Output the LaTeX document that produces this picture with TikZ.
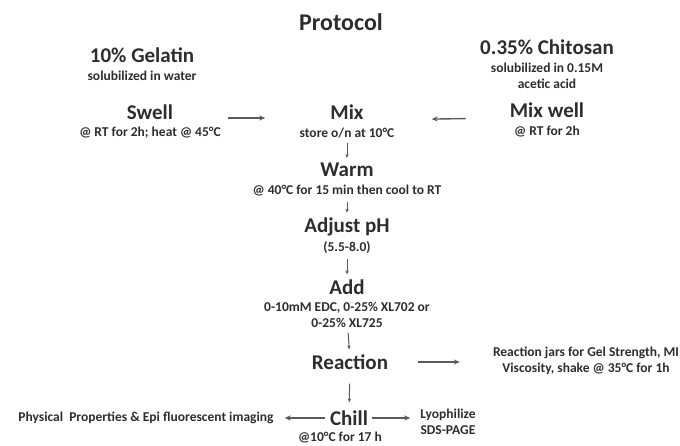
\documentclass[tikz,border=0pt]{standalone}
\usepackage{fontspec}
\setmainfont{Carlito}
\usetikzlibrary{positioning, arrows.meta}
\definecolor{TextGray}{RGB}{45, 45, 45}
\definecolor{ArrowGray}{RGB}{90, 90, 90}

\begin{document}
\begin{tikzpicture}[
    x=1pt, y=-1pt,
    title/.style={font=\bfseries\fontsize{24}{26}\selectfont, text=TextGray, inner sep=0pt},
    head/.style={font=\bfseries\fontsize{21}{23}\selectfont, text=TextGray, inner sep=0pt},
    note/.style={font=\bfseries\fontsize{13.5}{16}\selectfont, text=TextGray, inner sep=0pt, align=center},
    arrow/.style={-{Stealth[length=6pt, width=5pt]}, line width=1.4pt, ArrowGray},
    down/.style={-{Stealth[length=4pt, width=3.5pt]}, line width=1pt, ArrowGray, shorten <=5pt, shorten >=5pt}
  ]
    \useasboundingbox (0,0) rectangle (680,446);

    \node[title] (protocol) at (341,22) {Protocol};

    % sources
    \node[head] (gelatin) at (142,55) {10\% Gelatin};
    \node[note] (gelnote) at (142,76) {solubilized in water};
    \node[head] (chitosan) at (547,47) {0.35\% Chitosan};
    \node[note] (chinote) at (547,76) {solubilized in 0.15M\\acetic acid};

    % preparation
    \node[head] (swell) at (150,112) {Swell};
    \node[note] (swellnote) at (150,133) {@ RT for 2h; heat @ 45\textdegree C};
    \node[head] (mix) at (347,112) {Mix};
    \node[note] (mixnote) at (347,133) {store o/n at 10\textdegree C};
    \node[head] (mixwell) at (547,110) {Mix well};
    \node[note] (mixwellnote) at (547,132) {@ RT for 2h};

    % main steps
    \node[head] (warm) at (347,170) {Warm};
    \node[note] (warmnote) at (347,191) {@ 40\textdegree C for 15 min then cool to RT};
    \node[head] (adjust) at (347,227) {Adjust pH};
    \node[note] (adjustnote) at (347,248) {(5.5-8.0)};
    \node[head] (add) at (347,287) {Add};
    \node[note] (addnote) at (347,315) {0-10mM EDC, 0-25\% XL702 or\\0-25\% XL725};
    \node[head] (reaction) at (350,362) {Reaction};
    \node[head] (chill) at (349,418) {Chill};
    \node[note] (chillnote) at (340,438) {@10\textdegree C for 17 h};

    % outcomes
    \node[note] (jars) at (586,361) {Reaction jars for Gel Strength, MI\\Viscosity, shake @ 35\textdegree C for 1h};
    \node[note] (physical) at (146,418) {Physical\ \ Properties \& Epi fluorescent imaging};
    \node[note] (lyo) at (448,422) {Lyophilize\\SDS-PAGE};

    \draw[arrow, shorten <=55pt, shorten >=65pt] ([yshift=-6pt]swell.east) -- ([yshift=-6pt]mix.west);
    \draw[arrow, shorten <=44pt, shorten >=68pt] ([yshift=-8pt]mixwell.west) -- ([yshift=-8pt]mix.east);
    \draw[down] (mixnote) -- (warm);
    \draw[down] (warmnote) -- (adjust);
    \draw[down] (adjustnote) -- (add);
    \draw[down] (addnote) -- (reaction);
    \draw[down, shorten <=14pt, shorten >=8pt] (reaction) -- (chill);
    \draw[arrow, shorten <=30pt, shorten >=33pt] (reaction.east) -- (reaction.east -| jars.west);
    \draw[arrow, shorten <=5pt, shorten >=11pt] (chill.west) -- (physical.east);
    \draw[arrow, shorten <=4pt, shorten >=10pt] (chill.east) -- (chill.east -| lyo.west);
\end{tikzpicture}
\end{document}
